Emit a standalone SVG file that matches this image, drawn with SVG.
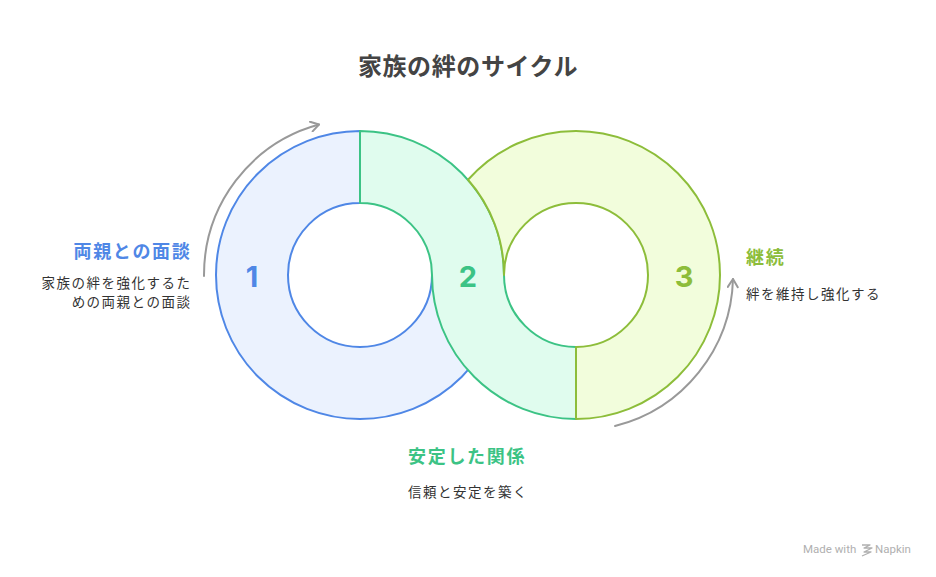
<svg xmlns="http://www.w3.org/2000/svg" width="936" height="577" viewBox="0 0 936 577">
<style>
.t{font-family:"Noto Sans CJK JP","Noto Sans",sans-serif}
.title{font-size:24px;font-weight:700;fill:#444444;letter-spacing:0.6px}
.head{font-size:18px;font-weight:700;letter-spacing:1.7px}
.desc{font-size:13.5px;fill:#333333;letter-spacing:1.5px}
.num{font-family:Inter,"Noto Sans",sans-serif;font-size:29px;font-weight:700}
.ring{stroke-width:2;stroke-linejoin:round}
.arc{fill:none;stroke:#999999;stroke-width:2;stroke-linecap:round}
</style>
<defs>
<marker id="ah" viewBox="0 0 12 12" refX="10" refY="6" markerWidth="12" markerHeight="12" markerUnits="userSpaceOnUse" orient="auto">
<path d="M2 1 L10 6 L2 11" fill="none" stroke="#999999" stroke-width="2" stroke-linecap="round" stroke-linejoin="round"/>
</marker>
</defs>
<rect width="936" height="577" fill="#ffffff"/>
<text class="t title" x="468" y="75" text-anchor="middle">家族の絆のサイクル</text>
<g id="node1">
<path class="ring" d="M360 131 A144 144 0 1 0 504 275 L432 275 A72 72 0 1 1 360 203 Z" fill="#ebf2fe" stroke="#4f87e6"/>
<text class="num" x="252" y="287" text-anchor="middle" fill="#4f87e6">1</text>
<text class="t head" x="191.5" y="258" text-anchor="end" fill="#4f87e6">両親との面談</text>
<text class="t desc" x="191.5" y="288" text-anchor="end">家族の絆を強化するた</text>
<text class="t desc" x="191.5" y="307" text-anchor="end">めの両親との面談</text>
</g>
<g id="node2">
<path class="ring" d="M360 131 L360 203 A72 72 0 0 1 432 275 A144 144 0 0 0 576 419 L576 347 A72 72 0 0 1 504 275 A144 144 0 0 0 360 131 Z" fill="#e0fcee" stroke="#3cc385"/>
<text class="num" x="468" y="287" text-anchor="middle" fill="#3cc385">2</text>
<text class="t head" x="408" y="463" fill="#3cc385">安定した関係</text>
<text class="t desc" x="408" y="497">信頼と安定を築く</text>
</g>
<g id="node3">
<path class="ring" d="M576 419 A144 144 0 0 0 720 275 A144 144 0 0 0 576 131 A144 144 0 0 0 468 179.75 A144 144 0 0 1 504 275 A72 72 0 0 1 576 203 A72 72 0 0 1 648 275 A72 72 0 0 1 576 347 Z" fill="#f2fddc" stroke="#8dbd3a"/>
<text class="num" x="684" y="287" text-anchor="middle" fill="#8dbd3a">3</text>
<text class="t head" x="746" y="264" fill="#8dbd3a">継続</text>
<text class="t desc" x="746" y="299">絆を維持し強化する</text>
</g>
<g id="connectors">
<path class="arc" d="M204 276 A156 156 0 0 1 319 124.5" marker-end="url(#ah)"/>
<path class="arc" d="M615 426 A156 156 0 0 0 733 279" marker-end="url(#ah)"/>
</g>
<g id="watermark" fill="#b0b0b0">
<text x="803" y="553" font-family="Roboto,'Noto Sans',sans-serif" font-size="11.5">Made with</text>
<path d="M862 545 l8 0 l-6 3 l8 0 l-8 4 l7 0 l-9 4" fill="none" stroke="#b0b0b0" stroke-width="1.3" stroke-linejoin="round"/>
<text x="875" y="553" font-family="Roboto,'Noto Sans',sans-serif" font-size="11.5">Napkin</text>
</g>
</svg>
